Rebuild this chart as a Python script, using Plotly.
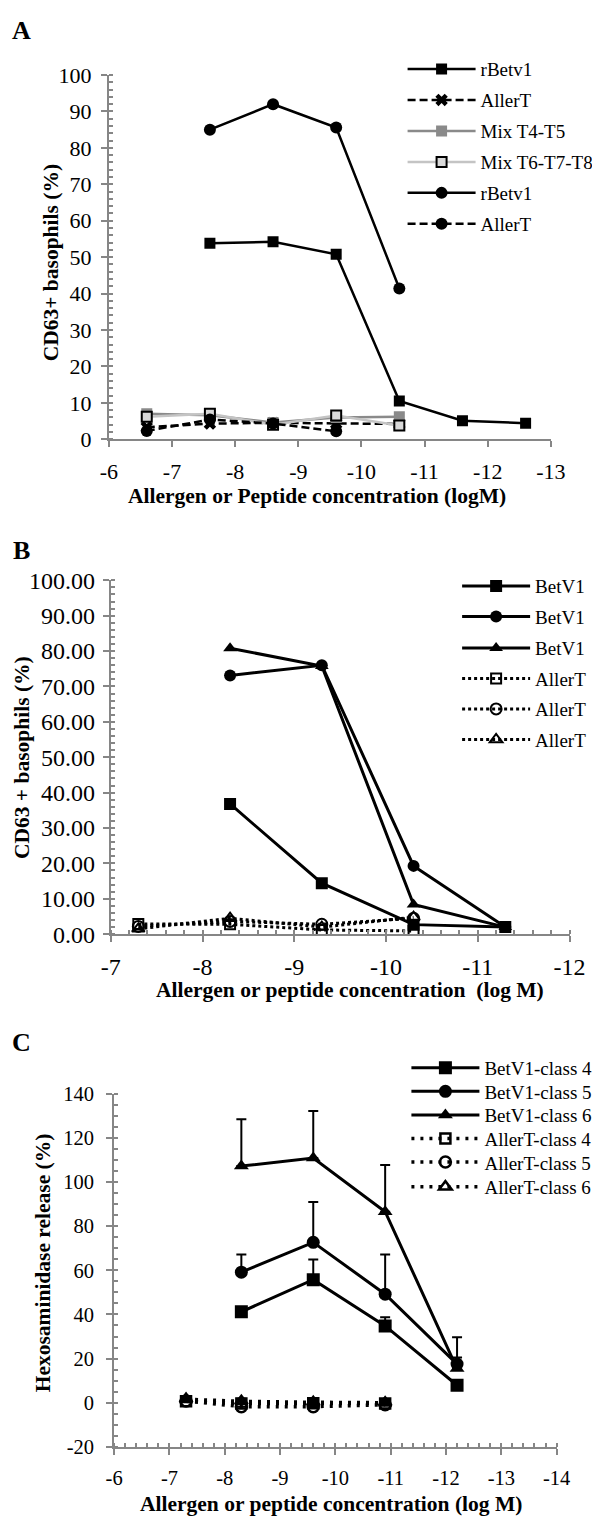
import plotly.graph_objects as go

# ---------------- data ----------------
# Panel A  (concentration in log M, CD63+ basophils in %)
a_conc = [-6.6, -7.6, -8.6, -9.6, -10.6, -11.6, -12.6]
a_rbetv1_sq = [53.8, 54.2, 50.8, 10.5, 5.1, 4.4]
a_allert_x = [3.3, 4.3, 4.5, 4.3, 4.2]
a_mix_t4_t5 = [7.0, 6.6, 4.6, 6.0, 6.2]
a_mix_t6_t8 = [6.2, 7.0, 4.0, 6.5, 3.8]
a_rbetv1_ci = [85.0, 92.0, 85.6, 41.4]
a_allert_ci = [2.3, 5.4, 4.3, 2.2]
a_xticks = [-6, -7, -8, -9, -10, -11, -12, -13]
a_yticks = [0, 10, 20, 30, 40, 50, 60, 70, 80, 90, 100]

# Panel B
b_conc = [-7.3, -8.3, -9.3, -10.3, -11.3]
b_betv1_sq = [36.8, 14.4, 2.7, 2.0]
b_betv1_ci = [73.1, 76.0, 19.3, 2.0]
b_betv1_tri = [80.8, 75.8, 8.4, 2.0]
b_allert_sq = [2.9, 2.8, 1.2, 0.9]
b_allert_ci = [2.2, 3.6, 2.8, 4.5]
b_allert_tri = [1.5, 4.5, 2.0, 4.8]
b_xticks = [-7, -8, -9, -10, -11, -12]
b_yticks = [0, 10, 20, 30, 40, 50, 60, 70, 80, 90, 100]

# Panel C  (hexosaminidase release in %, upper error bars)
c_conc = [-7.3, -8.3, -9.6, -10.9, -12.2]
c_betv1_4 = [41.2, 55.8, 34.8, 7.9]
c_betv1_4_err = [0, 9.1, 3.9, 0]
c_betv1_5 = [59.2, 72.7, 49.2, 17.5]
c_betv1_5_err = [8.0, 18.3, 18.0, 12.2]
c_betv1_6 = [107.3, 110.9, 86.6, 15.5]
c_betv1_6_err = [21.2, 21.3, 21.2, 5.0]
c_allert_4 = [0.6, -0.4, -0.3, -0.4]
c_allert_5 = [0.8, -1.8, -1.8, -0.9]
c_allert_6 = [1.6, 0.6, 0.2, 0.0]
c_allert_err = [1.2, 1.2, 1.0, 1.0]
c_xticks = [-6, -7, -8, -9, -10, -11, -12, -13, -14]
c_yticks = [-20, 0, 20, 40, 60, 80, 100, 120, 140]

W, H = 600, 1527
OFF = 8  # page body margin around the plot div
SERIF = "Liberation Serif, Times New Roman, serif"
AXIS_GRAY = "#868686"


def xp(px):
    return (px - OFF) / W


def yp(py):
    return 1 - (py - OFF) / H


fig = go.Figure()
layout_legends = {}
n_leg = [0]


def add_line(x, y, name, xa, ya, leg_x, leg_y, color="black", width=2.5, dash="solid",
             symbol="square", size=11, fill=None, outline="black", owidth=0, err=None):
    # one legend box per entry so each row sits where the reference puts it
    n_leg[0] += 1
    key = "legend" if n_leg[0] == 1 else "legend%d" % n_leg[0]
    layout_legends[key] = dict(x=xp(leg_x), y=yp(leg_y), xanchor="left", yanchor="middle",
                               bgcolor="rgba(0,0,0,0)", itemwidth=68,
                               font=dict(family=SERIF, size=19, color="black"))
    trace = go.Scatter(
        x=x, y=y, name=name, mode="lines+markers",
        xaxis=xa, yaxis=ya, legend=key,
        line=dict(color=color, width=width, dash=dash),
        marker=dict(symbol=symbol, size=size, color=fill if fill else color,
                    line=dict(color=outline, width=owidth)),
    )
    if err is not None:
        trace.error_y = dict(type="data", symmetric=False, array=err,
                             arrayminus=[0] * len(err), color="black",
                             thickness=2, width=5)
    fig.add_trace(trace)


# ---- Panel A ----
LA = 410
add_line(a_conc[1:], a_rbetv1_sq, "rBetv1", "x", "y", LA, 57, symbol="square")
add_line(a_conc[:5], a_allert_x, "AllerT", "x", "y", LA, 88.5, dash="8px,4px", symbol="x", size=11)
add_line(a_conc[:5], a_mix_t4_t5, "Mix T4-T5", "x", "y", LA, 120, color="#8a8a8a", symbol="square")
add_line(a_conc[:5], a_mix_t6_t8, "Mix T6-T7-T8", "x", "y", LA, 151.5, color="#c4c4c4",
         symbol="square", size=10, fill="#d9d9d9", outline="black", owidth=2)
add_line(a_conc[1:5], a_rbetv1_ci, "rBetv1", "x", "y", LA, 183, symbol="circle", size=12)
add_line(a_conc[:4], a_allert_ci, "AllerT", "x", "y", LA, 214.5, dash="8px,4px", symbol="circle", size=12)

# ---- Panel B ----
LB = 467
add_line(b_conc[1:], b_betv1_sq, "BetV1", "x2", "y2", LB, 583, width=3, symbol="square", size=12)
add_line(b_conc[1:], b_betv1_ci, "BetV1", "x2", "y2", LB, 614, width=3, symbol="circle", size=12)
add_line(b_conc[1:], b_betv1_tri, "BetV1", "x2", "y2", LB, 646, width=3, symbol="triangle-up", size=12)
add_line(b_conc[:4], b_allert_sq, "AllerT", "x2", "y2", LB, 677, width=3, dash="3px,3px",
         symbol="square-open", size=10, owidth=2)
add_line(b_conc[:4], b_allert_ci, "AllerT", "x2", "y2", LB, 708, width=3, dash="3px,3px",
         symbol="circle-open", size=11, owidth=2)
add_line(b_conc[:4], b_allert_tri, "AllerT", "x2", "y2", LB, 739, width=3, dash="3px,3px",
         symbol="triangle-up-open", size=11, owidth=2)

# ---- Panel C ----
LC = 414
add_line(c_conc[1:], c_betv1_4, "BetV1-class 4", "x3", "y3", LC, 1073, width=3,
         symbol="square", size=13, err=c_betv1_4_err)
add_line(c_conc[1:], c_betv1_5, "BetV1-class 5", "x3", "y3", LC, 1097, width=3,
         symbol="circle", size=13, err=c_betv1_5_err)
add_line(c_conc[1:], c_betv1_6, "BetV1-class 6", "x3", "y3", LC, 1121, width=3,
         symbol="triangle-up", size=13, err=c_betv1_6_err)
add_line(c_conc[:4], c_allert_4, "AllerT-class 4", "x3", "y3", LC, 1145, width=3.5, dash="3px,6px",
         symbol="square-open", size=10, owidth=2.5, err=c_allert_err)
add_line(c_conc[:4], c_allert_5, "AllerT-class 5", "x3", "y3", LC, 1169, width=3.5, dash="3px,6px",
         symbol="circle-open", size=11, owidth=2.5, err=c_allert_err)
add_line(c_conc[:4], c_allert_6, "AllerT-class 6", "x3", "y3", LC, 1194, width=3.5, dash="3px,6px",
         symbol="triangle-up-open", size=11, owidth=2.5, err=c_allert_err)


def hyphen(vals, fmt="%g"):
    # Excel-style hyphen minus in the tick labels
    return [(fmt % v).replace("\u2212", "-") for v in vals]


def axis_style(fontsize, standoff, **kw):
    d = dict(showline=True, linecolor=AXIS_GRAY, linewidth=2, ticks="outside",
             tickcolor=AXIS_GRAY, tickwidth=2, ticklen=6, showgrid=False, zeroline=False,
             tickmode="array", ticklabelstandoff=standoff,
             tickfont=dict(family=SERIF, size=fontsize, color="black"))
    d.update(kw)
    return d


def minor_in(step, start=0):
    return dict(tickmode="linear", tick0=start, dtick=step, ticks="inside", ticklen=4,
                tickcolor=AXIS_GRAY, tickwidth=1.5)


fig.update_layout(
    width=W, height=H,
    margin=dict(l=0, r=0, t=0, b=0),
    paper_bgcolor="white", plot_bgcolor="white",
    font=dict(family=SERIF, color="black"),
    showlegend=True,
    # panel A
    xaxis=axis_style(22, 5, domain=[xp(103), xp(565)], range=[-6, -13], anchor="y",
                     tickvals=a_xticks, ticktext=hyphen(a_xticks)),
    yaxis=axis_style(22, 5, domain=[yp(433.5), yp(63)], range=[0, 100], anchor="x",
                     tickvals=a_yticks, ticktext=hyphen(a_yticks), minor=minor_in(2)),
    # panel B
    xaxis2=axis_style(24, 4, domain=[xp(105), xp(584.5)], range=[-7, -12], anchor="y2",
                      tickvals=b_xticks, ticktext=hyphen(b_xticks), minor=minor_in(0.2)),
    yaxis2=axis_style(24, 3, domain=[yp(937), yp(577)], range=[0, 100], anchor="x2",
                      tickvals=b_yticks, ticktext=hyphen(b_yticks, "%.2f"), minor=minor_in(2)),
    # panel C
    xaxis3=axis_style(20.5, 6, domain=[xp(108.5), xp(571)], range=[-6, -14], anchor="y3",
                      tickvals=c_xticks, ticktext=hyphen(c_xticks), minor=minor_in(0.2)),
    yaxis3=axis_style(20.5, 8, domain=[yp(1458.5), yp(1099.5)], range=[-20, 140], anchor="x3",
                      tickvals=c_yticks, ticktext=hyphen(c_yticks), minor=minor_in(5)),
    **layout_legends,
)

# panel letters, axis titles
texts = [
    ("A", 11.5, 18, 0, 26), ("B", 11.5, 547, 0, 26), ("C", 11.5, 1047, 0, 26),
    ("CD63+ basophils (%)", 42, 254, -90, 21.5),
    ("CD63 + basophils (%)", 12, 757, -90, 21.5),
    ("Hexosaminidase release (%)", 35, 1271, -90, 21.5),
    ("Allergen or Peptide concentration (logM)", 321, 491, 0, 21.5),
    ("Allergen or peptide concentration&nbsp; (log M)", 355, 994, 0, 21.5),
    ("Allergen or peptide concentration (log M)", 335, 1517, 0, 21.5),
]
for txt, px, py, ang, sz in texts:
    fig.add_annotation(x=xp(px), y=yp(py), xref="paper", yref="paper", text="<b>%s</b>" % txt,
                       showarrow=False, textangle=ang, font=dict(family=SERIF, size=sz, color="black"),
                       xanchor="center", yanchor="middle")

fig.write_html("out.html")
